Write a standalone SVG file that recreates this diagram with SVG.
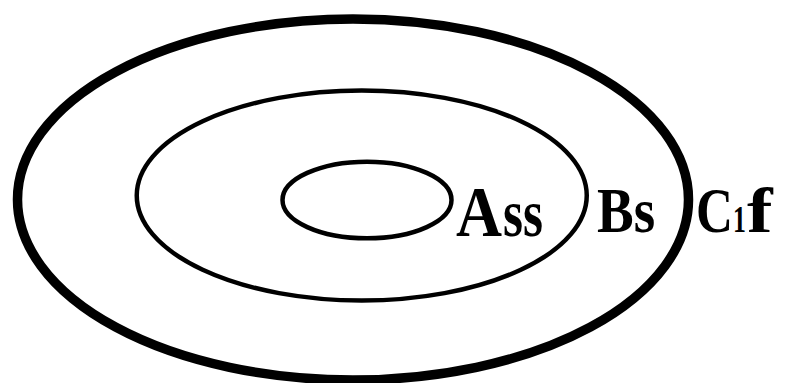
<svg xmlns="http://www.w3.org/2000/svg" width="791" height="383" viewBox="0 0 791 383">
<style>
.ring{fill:none;stroke:#000}
.lbl{font-family:"Liberation Serif","Times New Roman",serif;font-weight:bold;fill:#000}
</style>
<rect width="791" height="383" fill="#fff"/>
<g id="C">
<ellipse class="ring" cx="353" cy="199.5" rx="335.5" ry="180.5" stroke-width="9.5"/>
<text class="lbl" transform="translate(696,232) scale(0.8,1)" font-size="64">C</text>
<text class="lbl" transform="translate(733,232) scale(0.68,1)" font-size="38">1</text>
<text class="lbl" transform="translate(747,232) scale(1.2,1)" font-size="64">f</text>
</g>
<g id="B">
<ellipse class="ring" cx="361.75" cy="195.5" rx="225" ry="105" stroke-width="4.5"/>
<text class="lbl" transform="translate(597,232) scale(0.86,1)" font-size="64">Bs</text>
</g>
<g id="A">
<ellipse class="ring" cx="367" cy="200" rx="84.5" ry="38.3" stroke-width="4.5"/>
<text class="lbl" transform="translate(456,236) scale(0.885,1)" font-size="72">A</text>
<text class="lbl" transform="translate(503,236) scale(0.756,1)" font-size="68">ss</text>
</g>
<g id="connectors"/>
</svg>
